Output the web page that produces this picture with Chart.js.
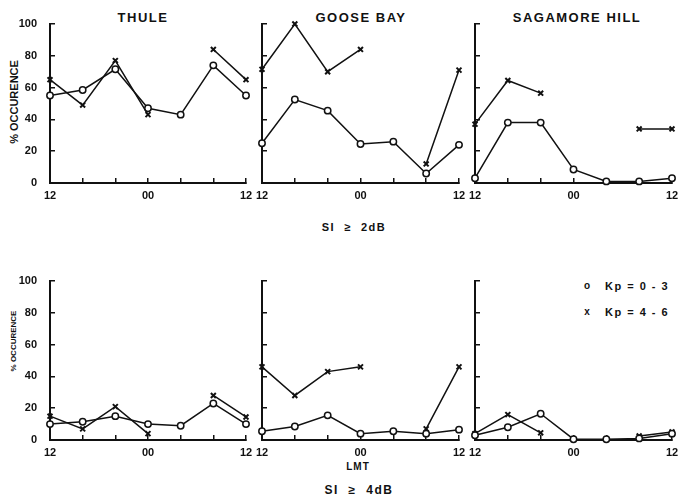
<!DOCTYPE html>
<html><head><meta charset="utf-8">
<script src="https://cdn.jsdelivr.net/npm/chart.js@4"></script>
<style>
body{margin:0;width:679px;height:497px;position:relative;overflow:hidden;background:#fff;font-family:"Liberation Sans",Arial,sans-serif;font-weight:bold;color:#111}
canvas{position:absolute}
.t{position:absolute;white-space:pre;line-height:1;transform:translate(-50%,-50%)}
.l{position:absolute;white-space:pre;line-height:1;transform:translate(0,-50%)}
</style></head><body>
<div class="t" style="left:143px;top:17px;font-size:13px;letter-spacing:1.5px">THULE</div>
<div class="t" style="left:361px;top:17px;font-size:13px;letter-spacing:1.5px">GOOSE BAY</div>
<div class="t" style="left:577px;top:17px;font-size:13px;letter-spacing:1.5px">SAGAMORE HILL</div>
<div class="t" style="left:14px;top:102px;font-size:11px;transform:translate(-50%,-50%) rotate(-90deg)">% OCCURENCE</div>
<div class="t" style="left:14px;top:341px;font-size:8px;transform:translate(-50%,-50%) rotate(-90deg)">% OCCURENCE</div>
<div class="t" style="left:354px;top:227px;font-size:11px;letter-spacing:1.5px">SI  ≥  2dB</div>
<div class="t" style="left:358px;top:467px;font-size:10px;letter-spacing:1px">LMT</div>
<div class="t" style="left:359px;top:490px;font-size:12px;letter-spacing:1.5px">SI  ≥  4dB</div>
<div class="t" style="left:587px;top:286px;font-size:10px">o</div>
<div class="l" style="left:605px;top:286px;font-size:11px;letter-spacing:1.5px">Kp = 0 - 3</div>
<div class="t" style="left:587px;top:312px;font-size:10px">x</div>
<div class="l" style="left:605px;top:312px;font-size:11px;letter-spacing:1.5px">Kp = 4 - 6</div>
<script>
// Local time (LMT) categories, 4-hour steps
const hours = ['12','16','20','00','04','08','12'];
const xTickLabels = ['12','','','00','','','12'];
const yTicks = [0,20,40,60,80,100];

// SI >= 2 dB
const thule2_kp03 = [55, 58.5, 71.5, 47, 43, 74, 55];
const thule2_kp46 = [65, 49, 77, 43, null, 84, 65];
const goose2_kp03 = [25, 52.5, 45.5, 24.5, 26, 6, 24];
const goose2_kp46 = [71.5, 100, 70, 84, null, 12, 71];
const saga2_kp03  = [3, 38, 38, 8.5, 1, 1, 3];
const saga2_kp46  = [37, 64.5, 56.5, null, null, 34, 34];

// SI >= 4 dB
const thule4_kp03 = [10, 11.5, 15, 10, 9, 23, 10];
const thule4_kp46 = [15, 7, 21, 4, null, 28, 14.5];
const goose4_kp03 = [5.5, 8.5, 15.5, 4, 5.5, 4, 6.5];
const goose4_kp46 = [46, 28, 43, 46, null, 7, 46];
const saga4_kp03  = [3, 8, 16.5, 0.5, 0.5, 1, 4];
const saga4_kp46  = [4, 16, 4.5, null, null, 2.5, 5];

const INK = '#111';
const tickFont = {family:'"Liberation Sans", Arial, sans-serif', size:11, weight:'bold'};
const PADL = 50, PADR = 15, PADT = 10, PADB = 25;

function panel(left, top, right, bottom, d03, d46, showY){
  const cv = document.createElement('canvas');
  const w = (right-left) + PADL + PADR, h = (bottom-top) + PADT + PADB;
  cv.width = w; cv.height = h;
  cv.style.left = (left-PADL)+'px'; cv.style.top = (top-PADT)+'px';
  cv.style.width = w+'px'; cv.style.height = h+'px';
  document.body.appendChild(cv);
  new Chart(cv, {
    type:'line',
    data:{labels:hours, datasets:[
      {label:'Kp = 0 - 3', data:d03, borderColor:INK, borderWidth:1.5, tension:0, spanGaps:false, clip:false,
       pointStyle:'circle', pointRadius:3.2, pointBackgroundColor:'#fff', pointBorderColor:INK, pointBorderWidth:1.5},
      {label:'Kp = 4 - 6', data:d46, borderColor:INK, borderWidth:1.5, tension:0, spanGaps:false, clip:false,
       pointStyle:'crossRot', pointRadius:3.5, pointBackgroundColor:INK, pointBorderColor:INK, pointBorderWidth:2}
    ]},
    options:{
      responsive:false, animation:false, events:[],
      layout:{padding:{left:0,right:PADR,top:PADT,bottom:0}},
      plugins:{legend:{display:false}, tooltip:{enabled:false}, title:{display:false}},
      scales:{
        x:{type:'category', offset:false,
           grid:{drawOnChartArea:false, drawTicks:true, tickLength:-5, color:INK, lineWidth:1.5},
           border:{display:true, color:INK, width:2},
           ticks:{autoSkip:false, maxRotation:0, minRotation:0, padding:11, font:tickFont, color:INK,
                  callback:(v,i)=>xTickLabels[i]},
           afterFit:s=>{s.height=PADB; s.paddingLeft=0; s.paddingRight=0;}},
        y:{min:0, max:100,
           afterBuildTicks:s=>{s.ticks = yTicks.map(v=>({value:v}));},
           grid:{drawOnChartArea:false, drawTicks:true, tickLength:-5, color:INK, lineWidth:1.5},
           border:{display:true, color:INK, width:2},
           ticks:{display:showY, padding:18, font:tickFont, color:INK},
           afterFit:s=>{s.width=PADL; s.paddingTop=0; s.paddingBottom=0;}}
      }
    }
  });
}

const colL = [50, 262, 475], colR = [246, 459, 672];
const rowT = [24, 281], rowB = [183, 440];
panel(colL[0], rowT[0], colR[0], rowB[0], thule2_kp03, thule2_kp46, true);
panel(colL[1], rowT[0], colR[1], rowB[0], goose2_kp03, goose2_kp46, false);
panel(colL[2], rowT[0], colR[2], rowB[0], saga2_kp03, saga2_kp46, false);
panel(colL[0], rowT[1], colR[0], rowB[1], thule4_kp03, thule4_kp46, true);
panel(colL[1], rowT[1], colR[1], rowB[1], goose4_kp03, goose4_kp46, false);
panel(colL[2], rowT[1], colR[2], rowB[1], saga4_kp03, saga4_kp46, false);
</script>
</body></html>
